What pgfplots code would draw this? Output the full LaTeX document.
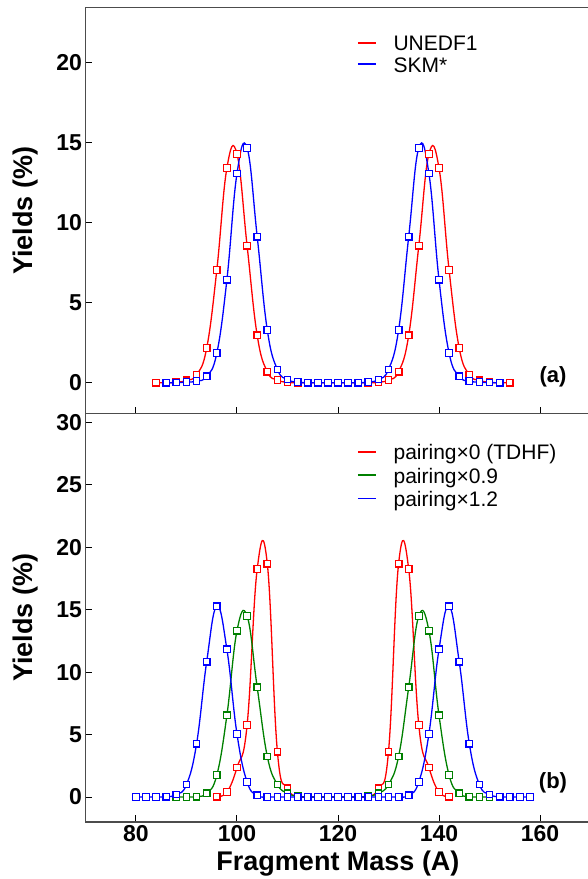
\documentclass[border=0pt]{standalone}
\usepackage{fontspec}
\setmainfont{Liberation Sans}
\usepackage{pgfplots}
\pgfplotsset{compat=1.18}
\definecolor{dgreen}{RGB}{0,128,0}

\pgfplotsset{
  panel/.style={
    scale only axis, width=505pt,
    xmin=70, xmax=170, xtick={80,100,...,160},
    tick pos=left, tick align=inside,
    major tick length=6.5pt,
    axis line style={black!70, line width=1.3pt},
    every tick/.style={black, line width=1pt},
    tick label style={font=\fontsize{23}{23}\selectfont\bfseries},
    /pgf/number format/assume math mode=true,
    xticklabel={\bfseries\pgfmathprintnumber{\tick}},
    yticklabel={\bfseries\pgfmathprintnumber{\tick}},
    every axis y label/.style={at={(axis description cs:-0.105,0.5)}, rotate=90, anchor=base,
      font=\fontsize{27}{27}\selectfont\bfseries},
    legend cell align=left,
    legend style={draw=none, fill=none, anchor=north west, inner sep=0pt,
      column sep=17pt, font=\fontsize{21}{21}\selectfont,
      nodes={inner sep=0pt, text height=16pt, text depth=0pt}},
    legend image code/.code={\draw[#1, line width=1.4pt] (0pt,0pt) -- (18pt,0pt);},
  },
  curve/.style={smooth, tension=0.72, line width=1.3pt, mark=square*, mark size=3.3pt,
    mark options={fill=white, solid, line width=1.2pt}},
}

\begin{document}
\begin{tikzpicture}
\path[use as bounding box] (0,0) rectangle (588pt,879pt);

% (a) two functionals
\begin{axis}[panel,
  at={(85.5pt,465.2pt)}, anchor=south west, height=406.5pt,
  ymin=-1.94, ymax=23.46, ytick={0,5,...,20},
  xticklabels={},
  ylabel={Yields (\%)},
  legend style={at={(axis description cs:0.5376,0.9326)}, row sep=5.3pt},
]
\addlegendimage{red}
\addlegendentry{UNEDF1}
\addlegendimage{blue}
\addlegendentry{SKM*}

% UNEDF1
\addplot[curve, red, forget plot] coordinates {
(84,0) (86,0) (88,0.03) (90,0.15) (92,0.5) (94,2.17) (96,7.04) (98,13.42)
(100,14.29) (102,8.56) (104,2.96) (106,0.69) (108,0.17) (110,0.03) (112,0)
(114,0) (116,0) (118,0) (120,0) (122,0) (124,0) (126,0) (128,0.03)
(130,0.17) (132,0.69) (134,2.96) (136,8.56) (138,14.29) (140,13.42)
(142,7.04) (144,2.17) (146,0.5) (148,0.15) (150,0.03) (152,0) (154,0)};
% SKM*
\addplot[curve, blue, forget plot] coordinates {
(86,0) (88,0.01) (90,0.04) (92,0.1) (94,0.4) (96,1.85) (98,6.44) (100,13.08)
(102,14.67) (104,9.13) (106,3.29) (108,0.83) (110,0.2) (112,0.04) (114,0)
(116,0) (118,0) (120,0) (122,0) (124,0) (126,0.04) (128,0.2) (130,0.83)
(132,3.29) (134,9.13) (136,14.67) (138,13.08) (140,6.44) (142,1.85)
(144,0.4) (146,0.1) (148,0.04) (150,0.01) (152,0)};

\node[font=\fontsize{22}{22}\selectfont\bfseries] at (axis description cs:0.9257,0.0905) {(a)};
\end{axis}

% (b) pairing strength
\begin{axis}[panel,
  at={(85.5pt,57pt)}, anchor=south west, height=408.2pt,
  ymin=-2, ymax=30.68, ytick={0,5,...,30},
  xlabel={Fragment Mass (A)},
  ylabel={Yields (\%)},
  every axis x label/.style={at={(axis description cs:0.5,-0.1176)}, anchor=base,
    font=\fontsize{27}{27}\selectfont\bfseries},
  legend style={at={(axis description cs:0.5376,0.9268)}, row sep=7.3pt},
]
\addlegendimage{red}
\addlegendentry{pairing×0 (TDHF)}
\addlegendimage{dgreen}
\addlegendentry{pairing×0.9}
\addlegendimage{blue}
\addlegendentry{pairing×1.2}

% pairing x0
\addplot[curve, red, forget plot] coordinates {
(96,0.03) (98,0.4) (100,2.37) (102,5.76) (104,18.25) (106,18.68) (108,3.63)
(110,0.7) (112,0.06) (114,0) (116,0) (118,0) (120,0) (122,0) (124,0)
(126,0.06) (128,0.7) (130,3.63) (132,18.68) (134,18.25) (136,5.76)
(138,2.37) (140,0.4) (142,0.03)};
% pairing x0.9
\addplot[curve, dgreen, forget plot] coordinates {
(88,0) (90,0) (92,0.03) (94,0.3) (96,1.75) (98,6.54) (100,13.32) (102,14.49)
(104,8.78) (106,3.25) (108,1.0) (110,0.3) (112,0.06) (114,0.01) (116,0)
(118,0) (120,0) (122,0) (124,0.01) (126,0.06) (128,0.3) (130,1.0)
(132,3.25) (134,8.78) (136,14.49) (138,13.32) (140,6.54) (142,1.75)
(144,0.3) (146,0.03) (148,0) (150,0)};
% pairing x1.2
\addplot[curve, blue, forget plot] coordinates {
(80,0) (82,0) (84,0) (86,0.02) (88,0.2) (90,1.0) (92,4.27) (94,10.84)
(96,15.27) (98,11.82) (100,5.04) (102,1.2) (104,0.13) (106,0.01) (108,0)
(110,0) (112,0) (114,0) (116,0) (118,0) (120,0) (122,0) (124,0) (126,0)
(128,0) (130,0) (132,0.01) (134,0.13) (136,1.2) (138,5.04) (140,11.82)
(142,15.27) (144,10.84) (146,4.27) (148,1.0) (150,0.2) (152,0.02)
(154,0) (156,0) (158,0)};

\node[font=\fontsize{22}{22}\selectfont\bfseries] at (axis description cs:0.9257,0.0955) {(b)};
\end{axis}
\end{tikzpicture}
\end{document}
